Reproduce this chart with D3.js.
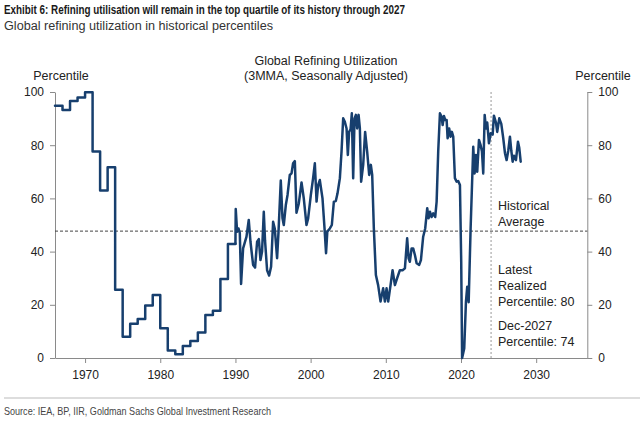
<!DOCTYPE html>
<html>
<head>
<meta charset="utf-8">
<script src="https://cdn.jsdelivr.net/npm/d3@7"></script>
<style>
  html, body { margin: 0; padding: 0; background: #fff; }
  svg { display: block; }
  .tick text { font-family: "Liberation Sans", Arial, sans-serif; font-size: 12px; fill: #222; }
</style>
</head>
<body>
<svg id="chart" width="640" height="422"></svg>
<script>
// ---- Data ----
const annualYears  = [1966,1967,1968,1969,1970,1971,1972,1973,1974,1975,1976,1977,1978,1979,1980,1981,1982,1983,1984,1985,1986,1987,1988,1989];
const annualValues = [94.8,93.2,96.6,97.9,99.9,77.6,63,71.7,25.7,8,12.9,14.7,19.7,23.7,11.2,2.8,1.4,4.5,6.4,9.6,16.2,17.8,29.7,42.9];

const monthlyDates = [
  1990.00,1990.04,1990.22,1990.40,1990.58,1990.75,1991.02,1991.47,1991.77,1992.00,
  1992.35,1992.61,1992.88,1993.11,1993.33,1993.54,1993.77,1993.94,1994.21,1994.48,
  1994.74,1995.01,1995.23,1995.54,1995.73,1996.03,1996.26,1996.43,1996.70,1996.93,
  1997.23,1997.46,1997.67,1997.90,1998.12,1998.43,1998.79,1999.09,1999.45,1999.67,
  2000.03,2000.33,2000.56,2000.79,2001.00,2001.22,2001.58,2001.85,2002.05,2002.22,
  2002.56,2002.82,2003.09,2003.35,2003.58,2003.89,2004.11,2004.33,2004.55,2004.78,
  2004.95,2005.12,2005.31,2005.48,2005.66,2005.84,2006.02,2006.19,2006.38,2006.55,
  2006.72,2006.99,2007.25,2007.52,2007.79,2008.01,2008.19,2008.41,2008.68,2008.98,
  2009.30,2009.65,2009.88,2010.10,2010.32,2010.63,2010.90,2011.21,2011.51,2011.87,
  2012.23,2012.54,2012.84,2013.03,2013.20,2013.43,2013.64,2013.87,2014.10,2014.44,
  2014.67,2014.97,2015.24,2015.51,2015.69,2015.87,2016.09,2016.31,2016.57,2016.76,
  2016.97,2017.20,2017.42,2017.56,2017.73,2017.90,2018.09,2018.22,2018.43,2018.62,
  2018.79,2018.97,2019.19,2019.42,2019.63,2019.86,2020.03,2020.15,2020.43,2020.66,
  2020.83,2021.02,2021.28,2021.63,2021.81,2021.99,2022.16,2022.39,2022.61,2022.79,
  2022.96,2023.15,2023.32,2023.49,2023.72,2023.95,2024.21,2024.38,2024.65,2024.82,
  2025.09,2025.36,2025.62,2025.85,2026.07,2026.29,2026.51,2026.69,2026.87,2027.05,
  2027.31,2027.58,2027.75,2027.94
];
const monthlyValues = [
  43,56,47.5,48.7,47,27.8,41.2,45.6,51.9,43.7,
  35,34,43.7,44.7,36.8,40,55,44,33,31,
  34.3,51.2,48.7,37.5,47.5,66.7,52.5,50,57.5,61.3,
  68.8,69.4,73.2,74,54.6,58.1,66,60,50,52.5,
  61.3,67.6,73.2,58.8,65,66.9,60,48.7,39.4,47.5,
  48.7,50,58.8,59,61.9,67.6,77.6,90.1,88.8,86.3,
  76.3,85,86,92,67.6,90.1,91.4,86.3,91.4,86.3,
  66.3,72.6,85,77.6,68.8,72.6,68.8,48.7,31.2,27.4,
  21.2,26.2,21.2,26.2,21.2,27.4,33,27.4,30,33,
  33,33.7,45,37.5,36.2,41.2,41.2,38.7,35.6,35,
  36.8,45.6,48.7,56.3,52.5,55,53,54.4,53,58.8,
  77.6,92,90.7,87.6,91,89.5,89.5,82.6,86.3,83.2,
  85,83.2,67.6,66.3,66.5,65,36.2,0,3.6,21.2,
  26.8,21,48.7,79.4,69.4,76.3,70,82,80,77.6,
  69.4,91.4,86.3,88.5,80.7,84.5,84,91.1,88.5,85,
  90.1,88,82.6,77,74.4,78,83.2,78,73.8,76,
  74.4,81.3,79,73.8
];

const xTickValues = [1970,1980,1990,2000,2010,2020,2030];
const yTickValues = [0,20,40,60,80,100];
const historicalAverage = 47.7;
const latestRealizedYear = 2024.0;

const titleText = "Exhibit 6: Refining utilisation will remain in the top quartile of its history through 2027";
const subtitleText = "Global refining utilization in historical percentiles";
const chartTitle = ["Global Refining Utilization", "(3MMA, Seasonally Adjusted)"];
const sourceText = "Source: IEA, BP, IIR, Goldman Sachs Global Investment Research";
const avgLabel = ["Historical", "Average"];
const latestLabel = ["Latest", "Realized", "Percentile: 80"];
const decLabel = ["Dec-2027", "Percentile: 74"];

// ---- Layout ----
const svg = d3.select("#chart");
const plotL = 55, plotR = 587.3, plotT = 92, plotB = 358;
const x = d3.scaleLinear().domain([1966, 2036.8]).range([plotL, plotR]);
const y = d3.scaleLinear().domain([0, 100]).range([plotB, plotT]);

const narrow = '"Liberation Sans Narrow", "Arial Narrow", sans-serif';
const sans = '"Liberation Sans", Arial, sans-serif';

svg.append("text").attr("x", 4).attr("y", 14)
  .attr("font-family", narrow).attr("font-weight", "bold").attr("font-size", 13.5)
  .attr("textLength", 401).attr("lengthAdjust", "spacingAndGlyphs")
  .attr("fill", "#1a1a1a").text(titleText);
svg.append("text").attr("x", 4).attr("y", 30)
  .attr("font-family", narrow).attr("font-size", 12.5)
  .attr("textLength", 269).attr("lengthAdjust", "spacingAndGlyphs")
  .attr("fill", "#333").text(subtitleText);

svg.selectAll(".ctitle").data(chartTitle).join("text")
  .attr("x", 326).attr("y", (d, i) => 65 + i * 15)
  .attr("text-anchor", "middle").attr("font-family", sans).attr("font-size", 12.5)
  .attr("fill", "#222").text(d => d);

svg.append("text").attr("x", 61).attr("y", 80).attr("text-anchor", "middle")
  .attr("font-family", sans).attr("font-size", 12.5).attr("fill", "#222").text("Percentile");
svg.append("text").attr("x", 603).attr("y", 80).attr("text-anchor", "middle")
  .attr("font-family", sans).attr("font-size", 12.5).attr("fill", "#222").text("Percentile");

// Axes
const axisColor = "#8a8a8a";
const gx = svg.append("g").attr("transform", `translate(0,${plotB})`)
  .call(d3.axisBottom(x).tickValues(xTickValues).tickFormat(d3.format("d")).tickSize(5).tickSizeOuter(0).tickPadding(7));
const gl = svg.append("g").attr("transform", `translate(${plotL},0)`)
  .call(d3.axisLeft(y).tickValues(yTickValues).tickSize(5).tickSizeOuter(0).tickPadding(6));
const gr = svg.append("g").attr("transform", `translate(${plotR},0)`)
  .call(d3.axisRight(y).tickValues(yTickValues).tickSize(5).tickSizeOuter(0).tickPadding(6));
[gx, gl, gr].forEach(g => {
  g.selectAll("path.domain").attr("stroke", axisColor);
  g.selectAll(".tick line").attr("stroke", axisColor);
});

// Reference lines
svg.append("line").attr("x1", plotL).attr("x2", plotR)
  .attr("y1", y(historicalAverage)).attr("y2", y(historicalAverage))
  .attr("stroke", "#444").attr("stroke-width", 1).attr("stroke-dasharray", "3,2");
svg.append("line").attr("x1", x(latestRealizedYear)).attr("x2", x(latestRealizedYear))
  .attr("y1", y(100)).attr("y2", y(0))
  .attr("stroke", "#999").attr("stroke-width", 1).attr("stroke-dasharray", "2,2");

// Series
const stepPts = annualYears.map((yr, i) => [yr, annualValues[i]]).concat([[monthlyDates[0], monthlyValues[0]]]);
const monthPts = monthlyDates.map((d, i) => [d, monthlyValues[i]]);
const lineColor = "#173f6e";
svg.append("path").datum(stepPts)
  .attr("d", d3.line().x(d => x(d[0])).y(d => y(d[1])).curve(d3.curveStepAfter))
  .attr("fill", "none").attr("stroke", lineColor).attr("stroke-width", 2.5)
  .attr("stroke-linejoin", "round").attr("stroke-linecap", "round");
svg.append("path").datum(monthPts)
  .attr("d", d3.line().x(d => x(d[0])).y(d => y(d[1])))
  .attr("fill", "none").attr("stroke", lineColor).attr("stroke-width", 2.5)
  .attr("stroke-linejoin", "round").attr("stroke-linecap", "round");

// Annotations
function block(lines, y0) {
  svg.append("g").selectAll("text").data(lines).join("text")
    .attr("x", 498).attr("y", (d, i) => y0 + i * 16)
    .attr("font-family", sans).attr("font-size", 12.5).attr("fill", "#222").text(d => d);
}
block(avgLabel, 210);
block(latestLabel, 274);
block(decLabel, 330);

// Footer
svg.append("line").attr("x1", 4).attr("x2", 640).attr("y1", 398).attr("y2", 398)
  .attr("stroke", "#bbb").attr("stroke-width", 1);
svg.append("text").attr("x", 4).attr("y", 415)
  .attr("font-family", narrow).attr("font-size", 10.5)
  .attr("textLength", 267).attr("lengthAdjust", "spacingAndGlyphs")
  .attr("fill", "#444").text(sourceText);
</script>
</body>
</html>
